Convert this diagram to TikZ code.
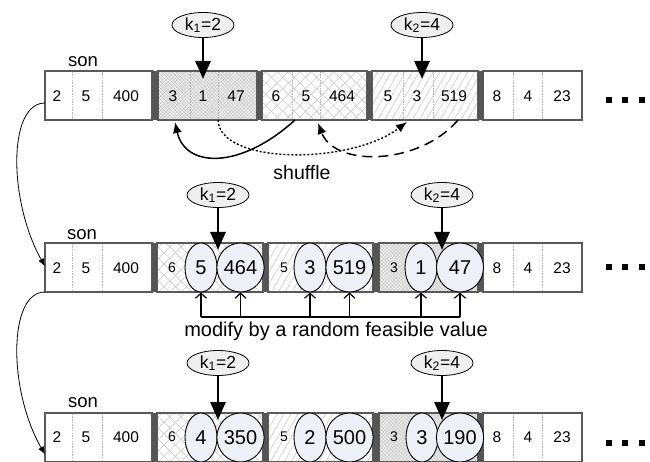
\documentclass[tikz,border=0pt]{standalone}
\usepackage{fontspec}
\setmainfont{Liberation Sans}
\usetikzlibrary{shapes.geometric,arrows.meta,patterns.meta,calc}
\definecolor{sepc}{HTML}{555555}
\definecolor{boxc}{HTML}{5A5A5A}
\definecolor{ellc}{HTML}{EDF0F6}
\definecolor{kc}{HTML}{EFEFEF}
\newcommand\fs[1]{\fontsize{#1}{#1}\selectfont}
\begin{document}
\begin{tikzpicture}[x=1pt,y=-1pt,
 seg/.style={draw=boxc,line width=1.1pt,minimum height=49pt,inner sep=0pt,outer sep=0pt,anchor=north west},
 plainseg/.style={seg,fill=white},
 dotseg/.style={seg,preaction={fill=gray!17},pattern={Hatch[angle=45,distance=2.5pt,line width=0.3pt]},pattern color=gray!42},
 xseg/.style={seg,preaction={fill=white},pattern={Hatch[angle=45,distance=8pt,line width=0.5pt]},pattern color=gray!45},
 lseg/.style={seg,preaction={fill=white},pattern={Lines[angle=60,distance=6pt,line width=0.5pt]},pattern color=gray!45},
 sepbar/.style={fill=sepc,draw=none,minimum height=49pt,inner sep=0pt,outer sep=0pt,anchor=north west},
 cellline/.style={draw=gray!55,line width=0.6pt,dash pattern=on 1.5pt off 1.2pt},
 num/.style={font=\fs{15.5},inner sep=0pt},
 smallnum/.style={font=\fs{14},inner sep=0pt},
 label/.style={font=\fs{18.5},inner sep=0pt},
 kell/.style={ellipse,draw,line width=0.8pt,fill=kc,minimum width=62pt,minimum height=25pt,inner sep=0pt,font=\fs{17.5}},
 vsmall/.style={ellipse,draw,line width=0.9pt,fill=ellc,minimum width=32pt,minimum height=49pt,inner sep=0pt,font=\fs{20}},
 vbig/.style={ellipse,draw,line width=0.9pt,fill=ellc,minimum width=47pt,minimum height=49pt,inner sep=0pt,font=\fs{20}},
 karrow/.style={line width=2.8pt,-{Triangle[length=18pt,width=15pt]}},
 curvearrow/.style={line width=0.8pt,-{Latex[length=8pt,width=6pt]}},
 shufarrow/.style={-{Latex[length=11pt,width=9pt]}},
 modarrow/.style={line width=1.2pt,-{Straight Barb[length=5pt,width=11pt]}},
 dotbox/.style={fill=black,draw=none,minimum size=6pt,inner sep=0pt}
]
\useasboundingbox (0,0) rectangle (650,462);

% ---------------- Row 1 ----------------
\node[plainseg,minimum width=107pt] (r1a) at (45,71) {};
\node[dotseg,minimum width=99pt] (r1b) at (158,71) {};
\node[xseg,minimum width=105pt] (r1c) at (262,71) {};
\node[lseg,minimum width=106pt] (r1d) at (372,71) {};
\node[plainseg,minimum width=99pt] (r1e) at (483,71) {};
\foreach \x/\w in {152/6,257/5,367/5,478/5}
  \node[sepbar,minimum width=\w pt] at (\x,71) {};
\foreach \x in {72,102,190,218,292,320,403,433,513,542}
  \draw[cellline] (\x,71.6) -- (\x,119.4);
\foreach \x/\t [count=\i] in {57/2,86/5,126/400,173/3,203/1,236/47,276/6,306/5,342/464,388/5,417/3,454/519,497/8,528/4,562/23}
  \node[num] (r1n\i) at (\x,96) {\t};
\node[label] (son1) at (83,62) {son};
\node[kell] (k1a) at (203,25) {k\textsubscript{1}=2};
\node[kell] (k2a) at (422,25) {k\textsubscript{2}=4};
\coordinate (t1a) at (203,79);
\coordinate (t2a) at (422,79);
\draw[karrow] (k1a.south) -- (t1a);
\draw[karrow] (k2a.south) -- (t2a);
\foreach \x [count=\i] in {608.5,625,641.5}
  \node[dotbox] (d1\i) at (\x,100) {};

% shuffle arrows
\draw[shufarrow,line width=1.5pt] ($(r1c.south west)+(33,0)$) .. controls (240,170) and (185,168) .. ($(r1b.south west)+(17,2)$);
\draw[shufarrow,line width=1.4pt,dash pattern=on 2pt off 2pt] ($(r1b.south west)+(60,0)$) .. controls (220,165) and (350,165) .. ($(r1d.south west)+(35,2)$);
\draw[shufarrow,line width=1.5pt,dash pattern=on 10pt off 6pt] ($(r1d.south west)+(86,0)$) .. controls (420,165) and (335,168) .. ($(r1c.south west)+(56,3)$);
\node[font=\fs{19.5},inner sep=0pt] (shuf) at (302,173) {shuffle};

% ---------------- Row 2 ----------------
\node[plainseg,minimum width=107pt] (r2a) at (45,243) {};
\node[xseg,minimum width=106pt] (r2b) at (157,243) {};
\node[lseg,minimum width=105pt] (r2c) at (268,243) {};
\node[dotseg,minimum width=99pt] (r2d) at (379,243) {};
\node[plainseg,minimum width=99pt] (r2e) at (483,243) {};
\foreach \x/\w in {152/5,263/5,373/6,478/5}
  \node[sepbar,minimum width=\w pt] at (\x,243) {};
\foreach \x in {72,102,513,542}
  \draw[cellline] (\x,243.6) -- (\x,291.4);
\foreach \x/\t [count=\i] in {57/2,86/5,126/400,497/8,528/4,562/23}
  \node[num] (r2n\i) at (\x,268) {\t};
\node[smallnum] (r2s1) at (172,268) {6};
\node[smallnum] (r2s2) at (284,268) {5};
\node[smallnum] (r2s3) at (394,268) {3};
\node[vsmall] (r2e1) at (201,267.5) {5};
\node[vbig]   (r2e2) at (240.5,267.5) {464};
\node[vsmall] (r2e3) at (310,267.5) {3};
\node[vbig]   (r2e4) at (349.5,267.5) {519};
\node[vsmall] (r2e5) at (421,267.5) {1};
\node[vbig]   (r2e6) at (460,267.5) {47};
\node[label] (son2) at (82,235) {son};
\node[kell] (k1b) at (218,195) {k\textsubscript{1}=2};
\node[kell] (k2b) at (442,195) {k\textsubscript{2}=4};
\coordinate (t1b) at (218,250);
\coordinate (t2b) at (442,250);
\draw[karrow] (k1b.south) -- (t1b);
\draw[karrow] (k2b.south) -- (t2b);
\foreach \x [count=\i] in {608.5,625,641.5}
  \node[dotbox] (d2\i) at (\x,267) {};

% modify arrows
\coordinate (mbase) at (0,317);
\draw[line width=1.2pt] (r2e1.south |- mbase) -- (r2e6.south |- mbase);
\foreach \e in {r2e1,r2e2,r2e3,r2e4,r2e5,r2e6}
  \draw[modarrow] (\e.south |- mbase) -- (\e.south);
\node[font=\fs{20},inner sep=0pt] (modtxt) at (336,331) {modify by a random feasible value};

% ---------------- Row 3 ----------------
\node[plainseg,minimum width=107pt] (r3a) at (45,413) {};
\node[xseg,minimum width=106pt] (r3b) at (157,413) {};
\node[lseg,minimum width=105pt] (r3c) at (268,413) {};
\node[dotseg,minimum width=99pt] (r3d) at (379,413) {};
\node[plainseg,minimum width=99pt] (r3e) at (483,413) {};
\foreach \x/\w in {152/5,263/5,373/6,478/5}
  \node[sepbar,minimum width=\w pt] at (\x,413) {};
\foreach \x in {72,102,513,542}
  \draw[cellline] (\x,413.6) -- (\x,461.4);
\foreach \x/\t [count=\i] in {57/2,86/5,126/400,497/8,528/4,562/23}
  \node[num] (r3n\i) at (\x,437) {\t};
\node[smallnum] (r3s1) at (172,437) {6};
\node[smallnum] (r3s2) at (284,437) {5};
\node[smallnum] (r3s3) at (394,437) {3};
\node[vsmall] (r3e1) at (201,437.5) {4};
\node[vbig]   (r3e2) at (240.5,437.5) {350};
\node[vsmall] (r3e3) at (310,437.5) {2};
\node[vbig]   (r3e4) at (349.5,437.5) {500};
\node[vsmall] (r3e5) at (422,437.5) {3};
\node[vbig]   (r3e6) at (460,437.5) {190};
\node[label] (son3) at (83,403) {son};
\node[kell] (k1c) at (218,363) {k\textsubscript{1}=2};
\node[kell] (k2c) at (442,363) {k\textsubscript{2}=4};
\coordinate (t1c) at (218,420);
\coordinate (t2c) at (442,420);
\draw[karrow] (k1c.south) -- (t1c);
\draw[karrow] (k2c.south) -- (t2c);
\foreach \x [count=\i] in {608.5,625,641.5}
  \node[dotbox] (d3\i) at (\x,443) {};

% ---------------- left curved arrows ----------------
\draw[curvearrow] ([yshift=-7.5pt]r1a.west) .. controls (8,103) and (8,200) .. ([yshift=1pt]r2a.west);
\draw[curvearrow] (r2a.south west) .. controls (8,292) and (8,390) .. ([yshift=-17pt]r3a.west);
\end{tikzpicture}
\end{document}
